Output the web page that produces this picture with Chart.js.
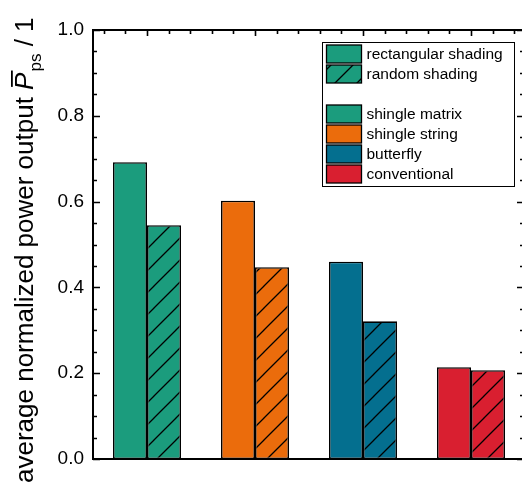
<!DOCTYPE html>
<html>
<head>
<meta charset="utf-8">
<script src="https://cdn.jsdelivr.net/npm/chart.js@4"></script>
<style>
  html, body { margin: 0; padding: 0; background: #fff; overflow: hidden; }
  canvas { display: block; }
</style>
</head>
<body>
<canvas id="power-chart" width="530" height="487"></canvas>
<script>
// Data
const categories = ['shingle matrix', 'shingle string', 'butterfly', 'conventional'];
const seriesNames = ['rectangular shading', 'random shading'];
const rectangularValues = [0.692, 0.602, 0.460, 0.214];
const randomValues = [0.545, 0.447, 0.321, 0.207];
const yTickValues = [0.0, 0.2, 0.4, 0.6, 0.8, 1.0];

const colors = ['#1b9c7d', '#eb6c0c', '#046f8f', '#d91f30'];
const FONT = '"Liberation Sans", Arial, sans-serif';

// Hatched fill ("/" lines) for the random shading bars
function makeHatch(color) {
    const s = 22;
    const c = document.createElement('canvas');
    c.width = s; c.height = s;
    const g = c.getContext('2d');
    g.fillStyle = color;
    g.fillRect(0, 0, s, s);
    g.strokeStyle = '#000';
    g.lineWidth = 1.3;
    g.beginPath();
    g.moveTo(-1, s + 1); g.lineTo(s + 1, -1);
    g.moveTo(-s / 2, s / 2); g.lineTo(s / 2, -s / 2);
    g.moveTo(s / 2, s * 1.5); g.lineTo(s * 1.5, s / 2);
    g.stroke();
    return g.createPattern(c, 'repeat');
}

const ctx = document.getElementById('power-chart').getContext('2d');
const hatches = colors.map(makeHatch);

// Axis frame with inward ticks on left, top and right
const framePlugin = {
    id: 'frame',
    afterDatasetsDraw(chart) {
        const { ctx, chartArea: a, scales: { x, y } } = chart;
        ctx.save();
        ctx.strokeStyle = '#000';
        ctx.lineCap = 'butt';
        // ticks
        ctx.lineWidth = 1.6;
        ctx.beginPath();
        for (let k = 0; k <= 20; k++) {
            const v = k * 0.05;
            const py = Math.round(y.getPixelForValue(v)) + 0.5;
            const major = k % 4 === 0;
            ctx.moveTo(a.left, py); ctx.lineTo(a.left + (major ? 7 : 4), py);
            ctx.moveTo(a.right, py); ctx.lineTo(a.right - (major ? 8 : 5), py);
        }
        const step = x.getPixelForValue(1) - x.getPixelForValue(0);
        for (let i = 0; i < categories.length; i++) {
            const cx = x.getPixelForValue(i);
            for (let m = -2; m <= 2; m++) {
                const px = Math.round(cx + m * step / 5) + 0.5;
                if (px <= a.left + 2 || px >= a.right - 1) continue;
                ctx.moveTo(px, a.top); ctx.lineTo(px, a.top + (m === 0 ? 6 : 4));
            }
        }
        ctx.stroke();
        // frame
        ctx.lineWidth = 2;
        ctx.strokeRect(a.left, a.top, a.right - a.left, a.bottom - a.top);
        ctx.restore();
    },
    afterDraw(chart) {
        const { ctx } = chart;
        ctx.save();
        // y axis title with italic, overlined P and subscript
        ctx.translate(33, 483);
        ctx.rotate(-Math.PI / 2);
        ctx.fillStyle = '#000';
        ctx.textBaseline = 'alphabetic';
        ctx.textAlign = 'left';
        let cx = 0;
        ctx.font = '26px ' + FONT;
        const t1 = 'average normalized power output ';
        ctx.fillText(t1, cx, 0);
        cx += ctx.measureText(t1).width;
        ctx.font = 'italic 26px ' + FONT;
        ctx.fillText('P', cx, 0);
        const pw = ctx.measureText('P').width;
        ctx.fillRect(cx + 3, -22, pw - 1, 1.8);
        cx += pw + 1;
        ctx.font = '17px ' + FONT;
        ctx.fillText('ps', cx, 8);
        cx += ctx.measureText('ps').width;
        ctx.font = '26px ' + FONT;
        ctx.fillText(' / 1', cx, 0);
        ctx.restore();

        // legend
        ctx.save();
        const box = { l: 322.5, t: 42.5, r: 514.5, b: 186.5 };
        ctx.fillStyle = '#fff';
        ctx.fillRect(box.l, box.t, box.r - box.l, box.b - box.t);
        ctx.strokeStyle = '#000';
        ctx.lineWidth = 1;
        ctx.strokeRect(box.l, box.t, box.r - box.l, box.b - box.t);
        const items = [
            { text: seriesNames[0], fill: colors[0] },
            { text: seriesNames[1], fill: hatches[0] },
            null,
            ...categories.map((c, i) => ({ text: c, fill: colors[i] }))
        ];
        ctx.font = '15.5px ' + FONT;
        ctx.textBaseline = 'middle';
        items.forEach((it, i) => {
            if (!it) return;
            const cy = 54 + i * 20;
            ctx.fillStyle = it.fill;
            ctx.fillRect(326.5, cy - 9, 35, 18);
            ctx.strokeStyle = '#000';
            ctx.lineWidth = 1.3;
            ctx.strokeRect(326.5, cy - 9, 35, 18);
            ctx.fillStyle = '#000';
            ctx.fillText(it.text, 366.5, cy + 1);
        });
        ctx.restore();
    }
};

new Chart(ctx, {
    type: 'bar',
    data: {
        labels: categories,
        datasets: [
            {
                label: seriesNames[0],
                data: rectangularValues,
                backgroundColor: colors,
                borderColor: '#000',
                borderWidth: 1.6,
                borderSkipped: false
            },
            {
                label: seriesNames[1],
                data: randomValues,
                backgroundColor: hatches,
                borderColor: '#000',
                borderWidth: 1.6,
                borderSkipped: false
            }
        ]
    },
    options: {
        responsive: false,
        animation: false,
        devicePixelRatio: 1,
        layout: { padding: { left: 0, top: 30, right: 5, bottom: 28 } },
        datasets: { bar: { categoryPercentage: 0.63, barPercentage: 1.0 } },
        plugins: { legend: { display: false }, tooltip: { enabled: false } },
        scales: {
            x: {
                offset: true,
                grid: { display: false, drawTicks: false },
                border: { display: false },
                ticks: { display: false },
                afterFit(scale) { scale.height = 0; }
            },
            y: {
                min: 0,
                max: 1,
                grid: { display: false, drawTicks: false },
                border: { display: false },
                afterBuildTicks(scale) { scale.ticks = yTickValues.map(v => ({ value: v })); },
                ticks: {
                    padding: 9,
                    color: '#000',
                    font: { family: FONT, size: 19 },
                    callback: v => Number(v).toFixed(1)
                },
                afterFit(scale) { scale.width = 93; }
            }
        }
    },
    plugins: [framePlugin]
});
</script>
</body>
</html>
